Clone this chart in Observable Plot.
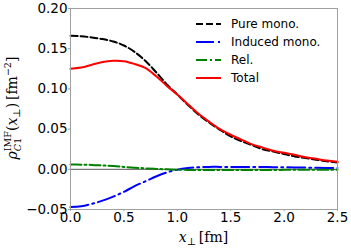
<!DOCTYPE html>
<html><head><meta charset="utf-8">
<script src="https://cdn.jsdelivr.net/npm/d3@7"></script>
<script src="https://cdn.jsdelivr.net/npm/@observablehq/plot@0.6"></script>
<style>html,body{margin:0;padding:0;background:#fff;}</style>
</head><body>
<div id="chart"></div>
<script>
const xValues = [0.0,0.1,0.2,0.3,0.4,0.5,0.6,0.7,0.8,0.9,1.0,1.1,1.2,1.3,1.4,1.5,1.6,1.7,1.8,1.9,2.0,2.1,2.2,2.3,2.4,2.5];
const pureMono = [0.166,0.1655,0.164,0.162,0.159,0.154,0.146,0.135,0.121,0.106,0.093,0.080,0.068,0.058,0.049,0.041,0.035,0.030,0.025,0.022,0.019,0.016,0.014,0.012,0.010,0.0085];
const inducedMono = [-0.047,-0.046,-0.043,-0.039,-0.034,-0.028,-0.021,-0.015,-0.009,-0.004,-0.0005,0.0015,0.0025,0.003,0.003,0.003,0.003,0.003,0.0028,0.0027,0.0025,0.0023,0.0021,0.0019,0.0017,0.0015];
const rel = [0.006,0.0058,0.0055,0.0048,0.004,0.003,0.002,0.0012,0.0005,0.0,-0.0005,-0.0008,-0.001,-0.001,-0.001,-0.001,-0.001,-0.0009,-0.0009,-0.0008,-0.0007,-0.0007,-0.0006,-0.0006,-0.0005,-0.0005];
const total = [0.125,0.1265,0.130,0.1335,0.135,0.1345,0.131,0.126,0.116,0.104,0.093,0.081,0.069,0.059,0.050,0.043,0.037,0.031,0.027,0.023,0.0205,0.018,0.015,0.013,0.011,0.0095];

const seriesNames = ["Pure mono.","Induced mono.","Rel.","Total"];
const seriesValues = [pureMono, inducedMono, rel, total];
const seriesColors = ["#000000","#0000ff","#008000","#ff0000"];
const seriesDash = ["7,3","18,4,2,4","11,3,2,3",null];

const xTicks = [0,0.5,1.0,1.5,2.0,2.5];
const yTicks = [-0.05,0,0.05,0.10,0.15,0.20];

const rows = [];
seriesNames.forEach((name,i)=>xValues.forEach((x,j)=>rows.push({series:name,x,y:seriesValues[i][j]})));

const fmt = (d,n)=>d.toFixed(n).replace("-","\u2212");

const lineMarks = seriesNames.map((name,i)=>Plot.line(rows.filter(r=>r.series===name),{
  x:"x", y:"y", stroke:seriesColors[i], strokeWidth:2, strokeDasharray:seriesDash[i]||undefined, curve:"catmull-rom"
}));

const svg = Plot.plot({
  width:351, height:248,
  marginLeft:70, marginRight:14, marginTop:8, marginBottom:39,
  style:{fontFamily:"DejaVu Sans", fontSize:"13.5px", color:"#000", background:"#fff", overflow:"visible"},
  x:{domain:[0,2.5]},
  y:{domain:[-0.05,0.20]},
  marks:[
    Plot.ruleY([0],{stroke:"#555", strokeWidth:1}),
    ...lineMarks,
    Plot.frame({stroke:"#a0a0a0", strokeWidth:1}),
    Plot.axisX({ticks:xTicks, tickFormat:d=>fmt(d,1), tickSize:2, tickPadding:1, stroke:"#a0a0a0", fill:"#000", label:null, fontSize:13.5}),
    Plot.axisY({ticks:yTicks, tickFormat:d=>fmt(d,2), tickSize:2, tickPadding:1, stroke:"#a0a0a0", fill:"#000", label:null, fontSize:13.5})
  ]
});
document.getElementById("chart").appendChild(svg);

const root = d3.select(svg);
const serif = "DejaVu Serif";

function rich(parent, segs) {
  const g = parent.append("g");
  let x = 0, stackStart = 0;
  for (const s of segs) {
    const sx = s.stack ? stackStart : x;
    const t = g.append("text").attr("x", sx).attr("y", s.y||0).attr("text-anchor","start")
      .attr("font-size", s.fs).attr("font-family", serif).attr("fill","#000");
    for (const [str, it] of s.t) t.append("tspan").attr("font-style", it ? "italic" : "normal").text(str);
    const w = t.node().getComputedTextLength();
    if (!s.stack) stackStart = sx;
    x = s.stack ? Math.max(x, sx + w) : sx + w;
  }
  return {g, width:x};
}

// x label
{
  const wrap = root.append("g").attr("transform","translate(203.5,242)");
  const r = rich(wrap, [
    {t:[["x",true]], fs:14},
    {t:[["\u22a5",false]], fs:10, y:3},
    {t:[["\u2009[fm]",false]], fs:14}
  ]);
  r.g.attr("transform",`translate(${-r.width/2},0)`);
}
// y label
{
  const wrap = root.append("g").attr("transform","translate(17,108) rotate(-90)");
  const r = rich(wrap, [
    {t:[["\u03c1",true]], fs:14},
    {t:[["IMF",false]], fs:9.5, y:-6},
    {t:[["C",true],["1",false]], fs:9.5, y:4, stack:true},
    {t:[["(",false],["x",true]], fs:14},
    {t:[["\u22a5",false]], fs:10, y:3},
    {t:[[")\u2009[fm",false]], fs:14},
    {t:[["\u22122",false]], fs:9.5, y:-6},
    {t:[["]",false]], fs:14}
  ]);
  r.g.attr("transform",`translate(${-r.width/2},0)`);
}

// legend
{
  const lg = root.append("g");
  seriesNames.forEach((name,i)=>{
    const y = 24 + i*18;
    lg.append("line").attr("x1",196).attr("x2",221).attr("y1",y).attr("y2",y)
      .attr("stroke",seriesColors[i]).attr("stroke-width",2)
      .attr("stroke-dasharray",seriesDash[i]||null);
    lg.append("text").attr("x",231).attr("y",y).attr("dy","0.35em").attr("text-anchor","start")
      .attr("font-family","DejaVu Sans").attr("font-size",12).attr("fill","#000").text(name);
  });
}
</script>
</body></html>
